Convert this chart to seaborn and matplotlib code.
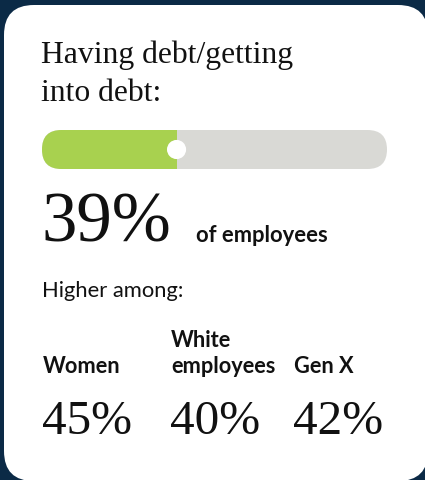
import matplotlib
matplotlib.use("Agg")
import matplotlib.pyplot as plt
from matplotlib.patches import FancyBboxPatch
import seaborn as sns

# ---- data ----
title_lines = ["Having debt/getting", "into debt:"]
share_value = 39
share_max = 100
share_label = "of employees"
subhead = "Higher among:"
groups = ["Women", "White\nemployees", "Gen X"]
group_values = [45, 40, 42]

# ---- style ----
sns.set_style("white")
SERIF = ["Liberation Serif", "DejaVu Serif"]
SANS = ["Lato", "DejaVu Sans"]
NAVY = "#0b2a46"
GREEN = "#a8d14f"
GRAY = "#d9d9d5"
INK = "#111111"

W, H = 425, 480
fig = plt.figure(figsize=(W / 100, H / 100), dpi=100, facecolor=NAVY)

# background axes in pixel coordinates
bg = fig.add_axes([0, 0, 1, 1])
bg.set_xlim(0, W)
bg.set_ylim(H, 0)
bg.axis("off")
card = FancyBboxPatch((4, 5), 424, 476, boxstyle="round,pad=0,rounding_size=30",
                      facecolor="white", edgecolor="none")
bg.add_patch(card)

# title
for i, line in enumerate(title_lines):
    bg.text(41, 63 + 38 * i, line, fontsize=22.8, family=SERIF, color=INK,
            va="baseline", ha="left")

# progress bar
bx0, bx1, by0, by1 = 42, 387, 130, 169
bar_ax = fig.add_axes([bx0 / W, 1 - by1 / H, (bx1 - bx0) / W, (by1 - by0) / H])
sns.barplot(x=[share_max], y=[0], orient="h", color=GRAY, width=1, linewidth=0,
            saturation=1, ax=bar_ax)
sns.barplot(x=[share_value], y=[0], orient="h", color=GREEN, width=1, linewidth=0,
            saturation=1, ax=bar_ax)
aspect = (bx1 - bx0) / (by1 - by0)
clip = FancyBboxPatch((0, 0), 1, 1,
                      boxstyle="round,pad=0,rounding_size=%f" % (0.5 / aspect),
                      mutation_aspect=aspect, transform=bar_ax.transAxes,
                      facecolor="none", edgecolor="none")
bar_ax.add_patch(clip)
for p in bar_ax.patches:
    if p is not clip:
        p.set_clip_path(clip)
sns.scatterplot(x=[share_value], y=[0], s=190, color="white", edgecolor="none",
                ax=bar_ax, zorder=5, legend=False)
bar_ax.set_xlim(0, share_max)
bar_ax.set_ylim(-0.5, 0.5)
bar_ax.axis("off")
bar_ax.patch.set_alpha(0)

# big number
bg.text(41, 242, f"{share_value}%", fontsize=51, family=SERIF, color=INK,
        va="baseline", ha="left")
bg.text(196, 242, share_label, fontsize=15.8, family=SANS, weight="bold", color=INK,
        va="baseline", ha="left")

bg.text(42, 297, subhead, fontsize=15.8, family=SANS, color=INK, va="baseline",
        ha="left")

# groups
col_x = [43, 171, 294]
for x, g, v in zip(col_x, groups, group_values):
    lines = g.split("\n")
    for j, ln in enumerate(reversed(lines)):
        bg.text(x, 373 - 26 * j, ln, fontsize=15.7, family=SANS, weight="bold",
                color=INK, va="baseline", ha="left")
    bg.text(x - 1, 434, f"{v}%", fontsize=35.5, family=SERIF, color=INK,
            va="baseline", ha="left")

fig.savefig("out.png", dpi=100, facecolor=NAVY)
